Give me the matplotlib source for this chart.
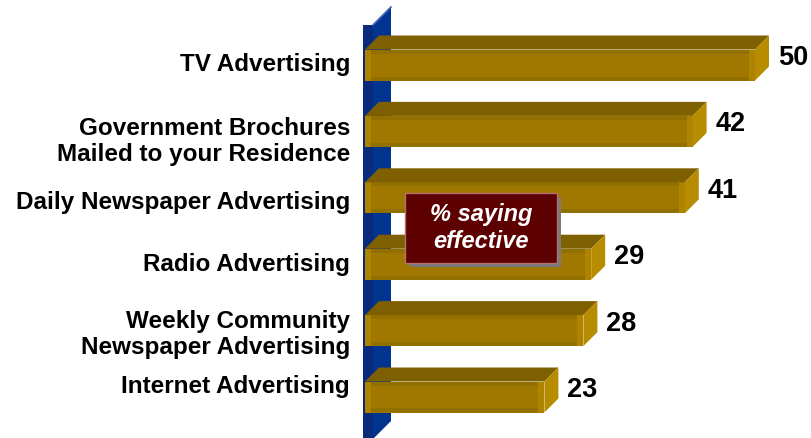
import matplotlib
matplotlib.use("Agg")
import matplotlib.pyplot as plt
from matplotlib.patches import Polygon, Rectangle

plt.rcParams['font.family'] = ['Liberation Sans', 'DejaVu Sans']

# survey results: % saying effective
categories = [
    "TV Advertising",
    "Government Brochures\nMailed to your Residence",
    "Daily Newspaper Advertising",
    "Radio Advertising",
    "Weekly Community\nNewspaper Advertising",
    "Internet Advertising",
]
values = [50, 42, 41, 29, 28, 23]
label_shift_px = [0, 10, 5, 0, 4, -10]   # small vertical nudges of the category labels

# layout in pixels
W, H = 811, 438
X0 = 365          # pixel column of value 0
PX_PER_UNIT = 7.8
ROW0 = 65         # pixel row of first bar centre
ROW_PITCH = 66.4
FRONT_H = 31      # front face height (px)
DEPTH = 14        # 3d depth of bars (px)

FRONT = "#a07800"
TOP = "#7f6000"
SIDE = "#b88c00"
EDGE_DARK = "#927000"
EDGE_LIGHT = "#ad8300"


def px(x, y):
    """pixel position -> data coords"""
    return ((x - X0) / PX_PER_UNIT, (y - ROW0) / ROW_PITCH)


def dx(p):
    return p / PX_PER_UNIT


def dy(p):
    return p / ROW_PITCH


fig = plt.figure(figsize=(W / 100, H / 100), dpi=100)
ax = fig.add_axes([0, 0, 1, 1])
ax.set_xlim(-X0 / PX_PER_UNIT, (W - X0) / PX_PER_UNIT)
ax.set_ylim((H - ROW0) / ROW_PITCH, -ROW0 / ROW_PITCH)
ax.axis("off")

# blue wall on the left
wall_front = Polygon([px(363, 25), px(373, 25), px(373, 438), px(363, 438)],
                     closed=True, facecolor="#0a2b7c", edgecolor="none", zorder=1)
wall_side = Polygon([px(373, 25), px(391, 7), px(391, 421), px(373, 439)],
                    closed=True, facecolor="#00348f", edgecolor="none", zorder=1)
ax.add_patch(wall_front)
ax.add_patch(wall_side)
ax.plot([px(373, 25)[0], px(391, 7)[0]], [px(373, 25)[1], px(391, 7)[1]],
        color="#3a63b8", lw=1.2, zorder=1)

h = dy(FRONT_H)
ddx, ddy = dx(DEPTH), dy(DEPTH)
for i, (cat, v) in enumerate(zip(categories, values)):
    top = i - h / 2
    bot = i + h / 2
    # front face
    ax.barh(i, v, height=h, left=0, color=FRONT, zorder=3)
    # shaded edges of the front face
    ax.barh(top + dy(2), v, height=dy(4), left=0, color=EDGE_DARK, zorder=3)
    ax.barh(bot - dy(2), v, height=dy(4), left=0, color=EDGE_DARK, zorder=3)
    ax.barh(i, dx(6), height=h, left=0, color=EDGE_LIGHT, zorder=3)
    ax.barh(i, dx(6), height=h, left=v - dx(6), color=EDGE_LIGHT, zorder=3)
    # top and side faces
    ax.add_patch(Polygon([(0, top), (ddx, top - ddy), (v + ddx, top - ddy), (v, top)],
                         closed=True, facecolor=TOP, edgecolor="none", zorder=3))
    ax.add_patch(Polygon([(v, top), (v + ddx, top - ddy), (v + ddx, bot - ddy), (v, bot)],
                         closed=True, facecolor=SIDE, edgecolor="none", zorder=3))
    # value label
    ax.text(v + ddx + dx(9), i - ddy / 2, str(v), ha="left", va="center",
            fontsize=19.5, fontweight="bold", color="black", zorder=4)
    # category label
    ax.text(dx(-15), i + dy(label_shift_px[i]), cat, ha="right", va="center",
            fontsize=17.5, fontweight="bold", color="black", linespacing=1.2, zorder=4)

# legend box
bx0, by0 = px(405, 193)
bx1, by1 = px(557, 263)
ax.add_patch(Rectangle((bx0 + dx(4), by0 + dy(4)), bx1 - bx0, by1 - by0,
                       facecolor="#7a7a7a", edgecolor="none", zorder=5))
ax.add_patch(Rectangle((bx0, by0), bx1 - bx0, by1 - by0,
                       facecolor="#5c0000", edgecolor="#b57070", lw=1, zorder=6))
ax.text((bx0 + bx1) / 2, (by0 + by1) / 2, "% saying\neffective", ha="center", va="center",
        fontsize=17, fontweight="bold", fontstyle="italic", color="white",
        linespacing=1.25, zorder=7)

fig.savefig("out.png", dpi=100)
